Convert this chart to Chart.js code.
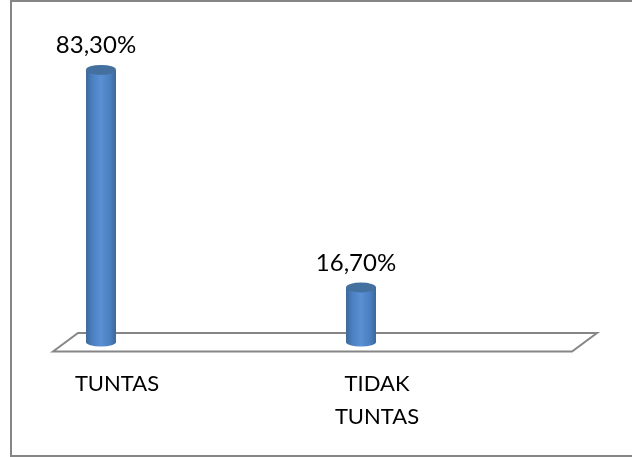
<!DOCTYPE html>
<html>
<head>
<meta charset="utf-8">
<style>
  html, body { margin: 0; padding: 0; background: #fff; }
  #wrap { position: relative; width: 632px; height: 457px; }
</style>
<script src="https://cdn.jsdelivr.net/npm/chart.js@4"></script>
</head>
<body>
<div id="wrap"><canvas id="chart" width="632" height="457"></canvas></div>
<script>
const categories = ["TUNTAS", ["TIDAK", "TUNTAS"]];
const values = [83.3, 16.7];
const valueLabels = ["83,30%", "16,70%"];

// frame around the picture and the 3D floor under the bars
const backdrop = {
  id: "backdrop",
  beforeDatasetsDraw(chart) {
    const ctx = chart.ctx;
    const base = chart.scales.y.getPixelForValue(0);
    ctx.save();
    ctx.strokeStyle = "#868686";
    ctx.lineWidth = 2;
    ctx.beginPath();
    ctx.moveTo(632, 1);
    ctx.lineTo(11, 1);
    ctx.lineTo(11, 456);
    ctx.lineTo(632, 456);
    ctx.stroke();
    ctx.beginPath();
    ctx.moveTo(53, base + 9.5);
    ctx.lineTo(78, base - 9);
    ctx.lineTo(597, base - 9);
    ctx.lineTo(572, base + 9.5);
    ctx.closePath();
    ctx.stroke();
    ctx.restore();
  }
};

// turns each flat bar into a cylinder and writes the value above it
const cylinders = {
  id: "cylinders",
  afterDatasetsDraw(chart) {
    const ctx = chart.ctx;
    chart.getDatasetMeta(0).data.forEach((bar, i) => {
      const half = bar.width / 2;
      const left = bar.x - half;
      const body = ctx.createLinearGradient(left, 0, left + bar.width, 0);
      body.addColorStop(0, "#3d6899");
      body.addColorStop(0.2, "#4a7fc0");
      body.addColorStop(0.5, "#5a90d4");
      body.addColorStop(0.8, "#4a7fc0");
      body.addColorStop(1, "#3d6899");

      ctx.save();
      ctx.fillStyle = body;
      ctx.beginPath();
      ctx.moveTo(left, bar.y);
      ctx.lineTo(left, bar.base);
      ctx.ellipse(bar.x, bar.base, half, 4.5, 0, Math.PI, 0, true);
      ctx.lineTo(left + bar.width, bar.y);
      ctx.closePath();
      ctx.fill();

      ctx.fillStyle = "#44709f";
      ctx.beginPath();
      ctx.ellipse(bar.x, bar.y, half, 5, 0, 0, Math.PI * 2);
      ctx.fill();

      ctx.fillStyle = "#000";
      ctx.font = "24px Lato";
      ctx.textAlign = "center";
      ctx.fillText(valueLabels[i], bar.x - 5, bar.y - 16.5);
      ctx.restore();
    });
  }
};

new Chart(document.getElementById("chart"), {
  type: "bar",
  data: {
    labels: categories,
    datasets: [{
      data: values,
      backgroundColor: "transparent",
      barThickness: 30,
      clip: false
    }]
  },
  options: {
    responsive: false,
    animation: false,
    layout: { padding: { left: 101, right: 271, top: 48, bottom: 7 } },
    plugins: { legend: { display: false }, tooltip: { enabled: false } },
    scales: {
      x: {
        offset: false,
        grid: { display: false },
        border: { display: false },
        ticks: {
          color: "#000",
          font: { family: "Lato", size: 22, lineHeight: 1.5 },
          maxRotation: 0,
          autoSkip: false,
          labelOffset: 16,
          padding: 17
        }
      },
      y: {
        display: false,
        min: 0,
        max: 90
      }
    }
  },
  plugins: [backdrop, cylinders]
});
</script>
</body>
</html>
